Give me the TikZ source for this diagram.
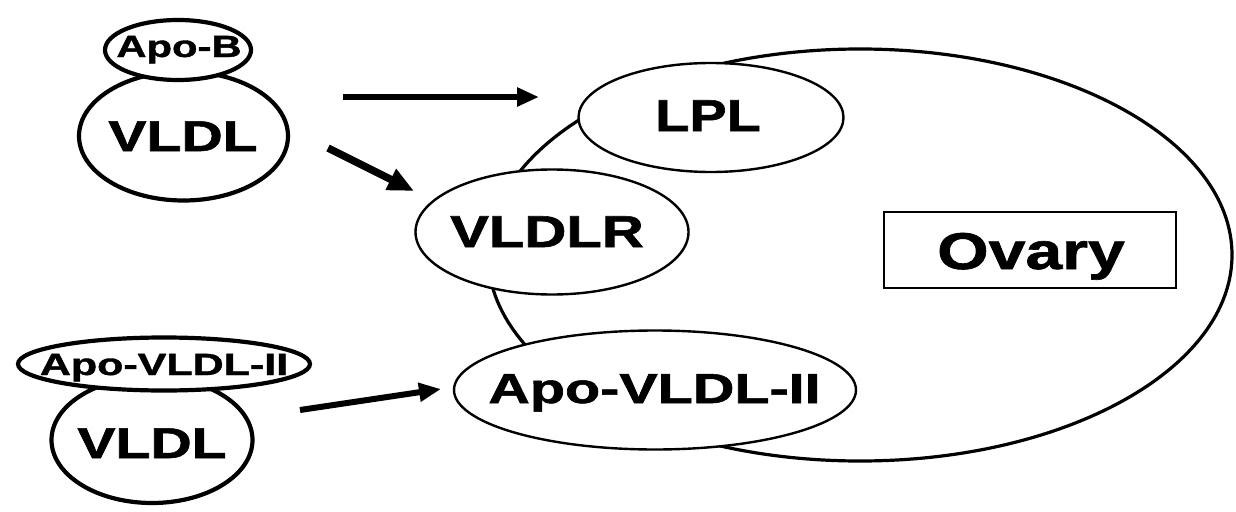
\documentclass[tikz,border=0pt]{standalone}
\usepackage{fontspec}
\setmainfont{Liberation Sans}[BoldFeatures={FakeBold=1.2}]
\usetikzlibrary{shapes.geometric,arrows.meta}
\newcommand\sx[2]{\scalebox{#1}[1]{#2}}
\begin{document}
\begin{tikzpicture}[x=1pt,y=-1pt,
  thickell/.style={ellipse, draw, line width=4.2pt, fill=white, inner sep=0pt, outer sep=0pt},
  thinell/.style={ellipse, draw, line width=2.4pt, fill=white, inner sep=0pt, outer sep=0pt},
  lab/.style={anchor=base, inner sep=0pt, font=\bfseries},
  arr/.style={line width=6pt, -{Triangle[length=22pt,width=18pt]}}
]
\useasboundingbox (0,0) rectangle (1236,511);
% ovary
\node[ellipse, draw, line width=3.2pt, inner sep=0pt, minimum width=744pt, minimum height=412pt] (ovary) at (860,255) {};
\node[draw, line width=2.6pt, inner sep=0pt, minimum width=292pt, minimum height=76pt] (ovbox) at (1030,250) {};
\node[lab, font=\bfseries\fontsize{51.7}{52}\selectfont] at (1031,269) {\sx{1.28}{Ovary}};
% receptors
\node[thinell, minimum width=265pt, minimum height=109pt] (lpl) at (711,117.5) {};
\node[lab, font=\bfseries\fontsize{44.7}{45}\selectfont] at (708,131) {\sx{1.25}{LPL}};
\node[thinell, minimum width=273pt, minimum height=125pt] (vldlr) at (552,232) {};
\node[lab, font=\bfseries\fontsize{44.7}{45}\selectfont] at (547,247) {\sx{1.30}{VLDLR}};
\node[thinell, minimum width=402pt, minimum height=119pt] (apoR) at (655,390) {};
\node[lab, font=\bfseries\fontsize{42}{42}\selectfont] at (654.5,403) {\sx{1.37}{Apo-VLDL-II}};
% top particle
\node[thickell, minimum width=209pt, minimum height=129pt] (vldlA) at (183.5,136) {};
\node[lab, font=\bfseries\fontsize{43}{43}\selectfont] at (183,151) {\sx{1.33}{VLDL}};
\node[thickell, minimum width=146pt, minimum height=60pt] (apoB) at (178,50) {};
\node[lab, font=\bfseries\fontsize{30.7}{31}\selectfont] at (179,57) {\sx{1.36}{Apo-B}};
% bottom particle
\node[thickell, minimum width=201pt, minimum height=126pt] (vldlB) at (152,440) {};
\node[lab, font=\bfseries\fontsize{43}{43}\selectfont] at (152,458) {\sx{1.33}{VLDL}};
\node[thickell, minimum width=292pt, minimum height=53pt] (apoS) at (164,364) {};
\node[lab, font=\bfseries\fontsize{30.7}{31}\selectfont] at (164,375) {\sx{1.40}{Apo-VLDL-II}};
% arrows
\coordinate (a1s) at (343,97);
\coordinate (a1e) at (539,97);
\coordinate (a2s) at (328,148);
\coordinate (a2e) at (414,191);
\coordinate (a3s) at (300,410);
\coordinate (a3e) at (441,389);
\draw[arr] (a1s) -- (a1e);
\draw[arr, line width=7.5pt, -{Triangle[length=26pt,width=22pt]}] (a2s) -- (a2e);
\draw[arr] (a3s) -- (a3e);
\end{tikzpicture}
\end{document}
